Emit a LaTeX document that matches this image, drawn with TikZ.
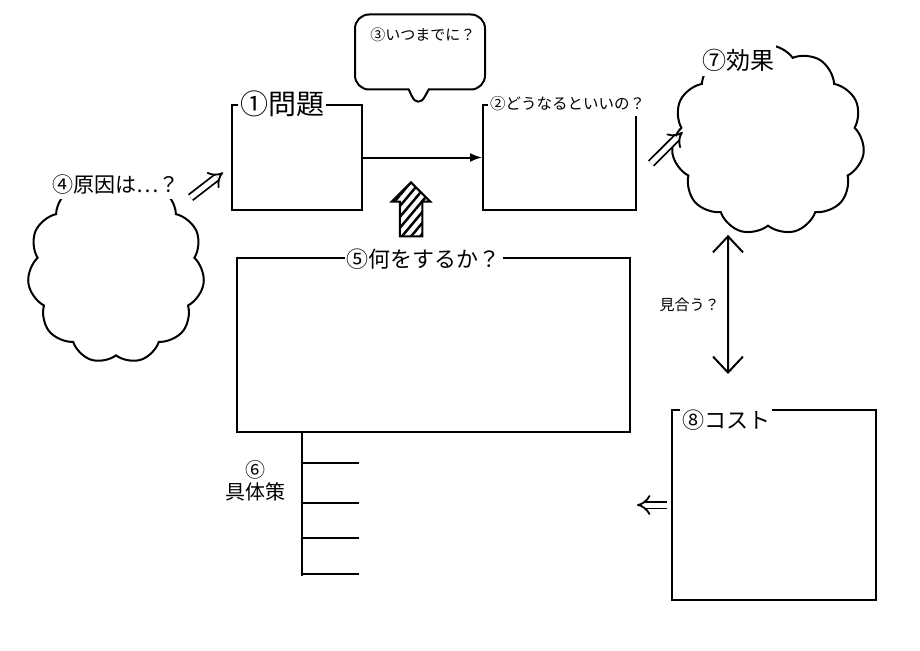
\documentclass[tikz,border=0pt]{standalone}
\usepackage{fontspec}
\setmainfont{Noto Sans CJK JP}
\usetikzlibrary{arrows.meta, positioning, calc}
\usetikzlibrary{shapes.symbols, shapes.arrows, shapes.callouts}
\usetikzlibrary{patterns.meta}
\newcommand{\tagsize}[1]{\fontsize{#1}{#1}\selectfont}
\tikzset{
    >={Latex},
    box/.style={draw, rectangle, line width=2pt},
    puff/.style={draw, cloud, cloud puffs=11, cloud puff arc=110, cloud ignores aspect, line width=2pt},
    tag/.style={fill=white, inner xsep=2pt, inner ysep=5pt},
    fat/.style={double, double distance=5pt, line width=1.8pt, -{Implies}},
    barb/.style={{Straight Barb[length=16pt, width=30pt]}-{Straight Barb[length=16pt, width=30pt]}},
}

\begin{document}
\begin{tikzpicture}[x=1pt, y=-1pt, line width=2pt]
\useasboundingbox (0,0) rectangle (920,650);

% upper boxes
\node[box, minimum width=130pt, minimum height=105pt] (prob) at (297,157.5) {};
\node[box, minimum width=153pt, minimum height=105pt] (goal) at (559.5,157.5) {};
\node[tag, anchor=west, font=\tagsize{28}] (probtag) at ([xshift=6pt]prob.north west) {①問題};
\node[tag, anchor=west, font=\tagsize{15.5}] (goaltag) at ([xshift=5pt]goal.north west) {②どうなるといいの？};
\draw[->] (prob.east) -- (goal.west);

% speech bubble
\node[draw, rectangle callout, rounded corners=14pt, minimum width=130pt, minimum height=75pt,
      callout pointer width=20pt, callout absolute pointer={(418,109)}] (when) at (420,52) {};
\node[anchor=north west, font=\tagsize{15}] (whentag) at ([xshift=12pt, yshift=-10pt]when.north west) {③いつまでに？};

% left cloud
\node[puff, minimum width=177pt, minimum height=187pt] (cause) at (116,270) {};
\node[tag, font=\tagsize{21}] (causetag) at ([yshift=-9pt]cause.north) {④原因は…？};
\draw[fat] ($(causetag.east)+(8,13)$) -- ($(prob.west)+(-8,15)$);

% right cloud
\node[puff, minimum width=193pt, minimum height=190pt] (effect) at (768,140) {};
\node[tag, font=\tagsize{24}] (effecttag) at ([xshift=-30pt, yshift=-16pt]effect.north) {⑦効果};
\draw[fat] ($(goal.east)+(14,6)$) -- ($(effect.west)+(10,-8)$);

% hatched arrow
\node[single arrow, draw, shape border rotate=90, minimum height=54pt, minimum width=38pt,
      single arrow head extend=8pt, inner sep=10pt,
      pattern={Lines[angle=50, distance=7pt, line width=2.5pt]}] (push) at (411,215) {};

% middle box
\node[box, minimum width=393pt, minimum height=174pt] (plan) at (433.5,345) {};
\node[tag, font=\tagsize{22}] (plantag) at ([xshift=-10pt, yshift=-2pt]plan.north) {⑤何をするか？};

% measures
\coordinate (spine) at ([xshift=66pt]plan.south west);
\draw (spine) -- ++(0,143);
\foreach \y in {30,70,105,141}
    \draw ($(spine)+(0,\y)$) -- ++(57,0);
\node[anchor=east, align=center, font=\tagsize{20}, inner sep=0pt] (steptag) at ($(spine)+(-16,48)$) {⑥\\[2pt]具体策};

% cost box
\node[box, minimum width=204pt, minimum height=190pt] (cost) at (774,505) {};
\node[tag, anchor=north west, font=\tagsize{22}] (costtag) at ([xshift=8pt, yshift=5pt]cost.north west) {⑧コスト};
\draw[fat] ([xshift=-4pt]cost.west) -- ++(-30,0);

% balance
\draw[barb] ($(effect.south)+(-40,8)$) -- ($(cost.north)+(-46,-35)$)
    node[midway, left=4pt, font=\tagsize{15}] (fittag) {見合う？};
\end{tikzpicture}
\end{document}
